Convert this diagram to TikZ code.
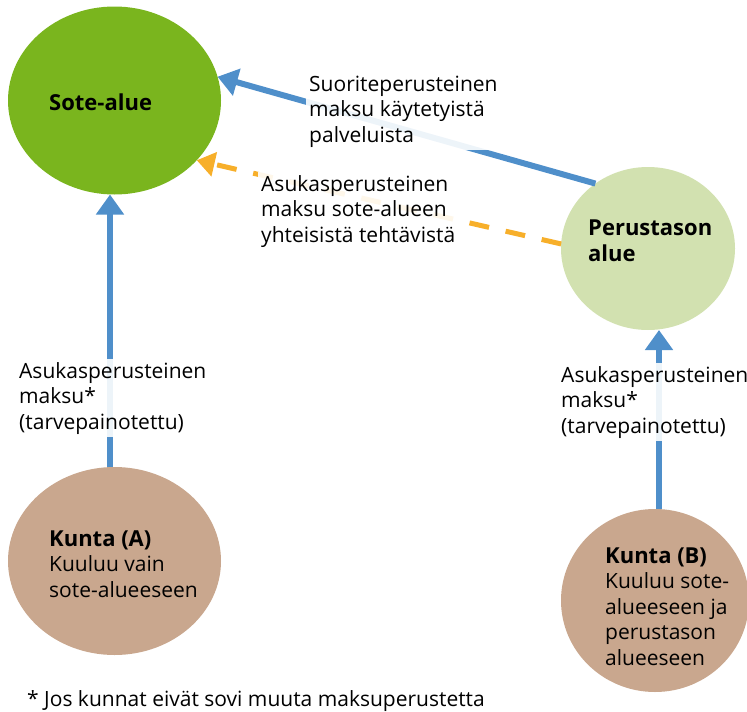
\documentclass[tikz,border=0pt]{standalone}
\usepackage{fontspec}
\setmainfont{Open Sans}
\usetikzlibrary{shapes.geometric,arrows.meta}
\definecolor{soteg}{HTML}{7AB51E}
\definecolor{perg}{HTML}{D2E1B0}
\definecolor{kunta}{HTML}{C9A78E}
\definecolor{arrblue}{HTML}{4F8FCA}
\definecolor{arrorange}{HTML}{F7AF2A}
\newcommand{\bld}[1]{{\fontsize{22}{25.5}\selectfont\bfseries #1}}
\tikzset{
  blob/.style={ellipse, inner sep=0pt, outer sep=0pt},
  txt/.style={anchor=base west, inner sep=0pt, align=left, font=\fontsize{21}{25.5}\selectfont},
  lbl/.style={anchor=base west, inner sep=3pt, align=left, fill=white, fill opacity=0.9, text opacity=1, font=\fontsize{21}{25.5}\selectfont},
  bluearrow/.style={draw=arrblue, line width=6pt, -{Triangle[width=27pt,length=20pt]}},
  orangearrow/.style={draw=arrorange, line width=5pt, dash pattern=on 20pt off 17pt, -{Triangle[width=24pt,length=18pt]}}
}
\begin{document}
\begin{tikzpicture}[x=1pt,y=-1pt]
\useasboundingbox (0,0) rectangle (747,712);
\node[blob, fill=soteg, minimum width=213pt, minimum height=188pt] (sote) at (114.5,100.5) {};
\node[blob, fill=perg, minimum width=174pt, minimum height=163pt] (per) at (648,248.5) {};
\node[blob, fill=kunta, minimum width=213pt, minimum height=188pt] (ka) at (114.5,561) {};
\node[blob, fill=kunta, minimum width=188pt, minimum height=183pt] (kb) at (655,600.5) {};

\draw[bluearrow] ([xshift=-4.5pt]ka.north) -- ([xshift=-4.5pt]sote.south);
\draw[bluearrow] ([xshift=4pt]kb.north) -- ([xshift=11pt]per.south);
\draw[bluearrow] (per.129) -- (sote.13);
\draw[orangearrow] (per.177) -- (sote.-36);

\node[lbl] (l1) at (306,142) {Suoriteperusteinen\\maksu käytetyistä\\palveluista};
\node[lbl] (l2) at (258,242) {Asukasperusteinen\\maksu sote-alueen\\yhteisistä tehtävistä};
\node[lbl] (l3) at (16,429) {Asukasperusteinen\\maksu*\\(tarvepainotettu)};
\node[lbl] (l4) at (558,433) {Asukasperusteinen\\maksu*\\(tarvepainotettu)};

\node[txt] (t1) at (49,110) {\bld{Sote-alue}};
\node[txt] (t2) at (588,261) {\bld{Perustason}\\\bld{alue}};
\node[txt] (t3) at (49,597) {\bld{Kunta (A)}\\Kuuluu vain\\sote-alueeseen};
\node[txt] (t4) at (605,665) {\bld{Kunta (B)}\\Kuuluu sote-\\alueeseen ja\\perustason\\alueeseen};
\node[txt] (foot) at (27,706) {* Jos kunnat eivät sovi muuta maksuperustetta};
\end{tikzpicture}
\end{document}
